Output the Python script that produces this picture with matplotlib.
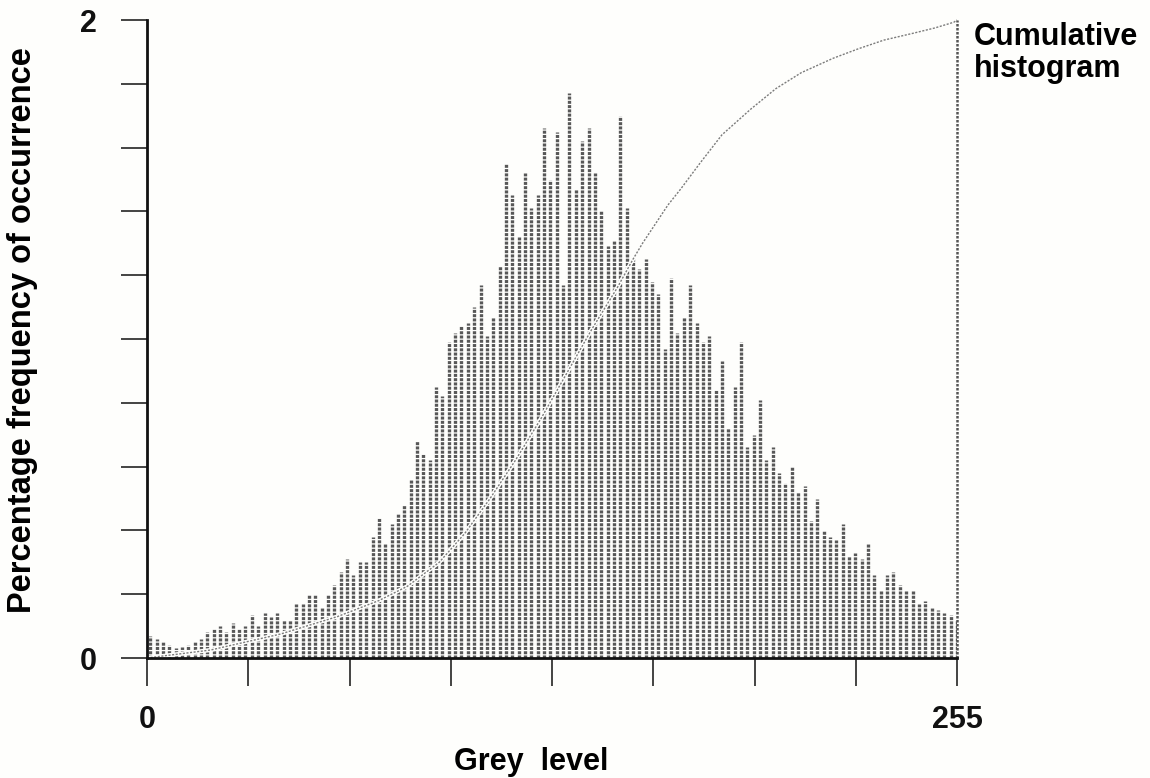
import numpy as np
import matplotlib
matplotlib.use("Agg")
import matplotlib.pyplot as plt

# Percentage frequency of occurrence, one bar per pair of grey levels (0-1, 2-3, ..., 254-255)
frequency = [
    0.07, 0.06, 0.05, 0.04, 0.03, 0.035, 0.04, 0.05, 0.06, 0.08,
    0.09, 0.10, 0.08, 0.11, 0.09, 0.10, 0.135, 0.10, 0.14, 0.13,
    0.14, 0.12, 0.12, 0.17, 0.17, 0.20, 0.20, 0.16, 0.20, 0.23,
    0.27, 0.31, 0.26, 0.30, 0.30, 0.38, 0.44, 0.36, 0.42, 0.45,
    0.48, 0.56, 0.68, 0.64, 0.62, 0.85, 0.82, 0.99, 1.02, 1.04,
    1.05, 1.10, 1.17, 1.01, 1.07, 1.23, 1.55, 1.45, 1.32, 1.52,
    1.41, 1.45, 1.66, 1.50, 1.65, 1.17, 1.77, 1.47, 1.62, 1.66,
    1.52, 1.40, 1.29, 1.31, 1.70, 1.41, 1.25, 1.22, 1.25, 1.18,
    1.14, 0.97, 1.19, 1.02, 1.07, 1.17, 1.05, 0.99, 1.01, 0.84,
    0.93, 0.72, 0.85, 0.99, 0.66, 0.70, 0.81, 0.62, 0.66, 0.58,
    0.55, 0.60, 0.52, 0.54, 0.43, 0.50, 0.40, 0.38, 0.37, 0.42,
    0.32, 0.33, 0.31, 0.36, 0.26, 0.21, 0.26, 0.27, 0.23, 0.21,
    0.21, 0.17, 0.18, 0.16, 0.15, 0.14, 0.135, 0.12,
]
grey_levels = np.arange(1, 256, 2)          # bar positions (centre of each pair)
grey_min, grey_max = 0, 255
y_max = 2.0

# Cumulative histogram (100 % drawn at the top of the axis)
cum_grey = [0, 20, 42, 60, 73, 82, 92, 100, 108, 116, 124, 132, 140, 148,
            153, 156, 164, 168, 174, 181, 190, 198, 206, 216, 224, 232, 241,
            248, 254, 255]
cum_value = [0.0, 0.025, 0.075, 0.13, 0.18, 0.225, 0.30, 0.39, 0.50, 0.62,
             0.75, 0.89, 1.03, 1.16, 1.25, 1.30, 1.42, 1.47, 1.55, 1.64,
             1.72, 1.785, 1.835, 1.88, 1.91, 1.937, 1.958, 1.975, 1.993, 2.0]

x_tick_labels = {0: "0", 255: "255"}
y_tick_labels = {0.0: "0", 2.0: "2"}

font = {"family": ["Liberation Sans", "DejaVu Sans"], "weight": "bold"}
paper = "#fefefc"

fig = plt.figure(figsize=(11.5, 7.78), dpi=100, facecolor=paper)
ax = fig.add_axes([147 / 1150, 1 - 658 / 778, 810 / 1150, 638 / 778])
ax.set_facecolor(paper)

freq = np.asarray(frequency)
# Histogram columns drawn as dotted vertical strokes
ax.vlines(grey_levels, 0, freq, colors="#585858", linewidth=2.4,
          linestyles=(0, (0.9, 0.38)), zorder=2)

# Cumulative curve: a white track through the columns with a fine dotted line on it
ax.plot(cum_grey, cum_value, color=paper, linewidth=3.0, zorder=3,
        solid_capstyle="butt", solid_joinstyle="round")
ax.plot(cum_grey, cum_value, color="#7c7c7c", linewidth=1.0,
        linestyle=(0, (1.5, 1.1)), zorder=4, clip_on=False)
# Vertical dotted edge at the top grey level
ax.plot([grey_max, grey_max], [0, cum_value[-1]], color="#555555",
        linewidth=1.8, linestyle=(0, (1.0, 0.6)), zorder=4, clip_on=False)

ax.set_xlim(grey_min, grey_max)
ax.set_ylim(0, y_max)

for side in ("top", "right"):
    ax.spines[side].set_visible(False)
for side in ("left", "bottom"):
    ax.spines[side].set_linewidth(2.0)
    ax.spines[side].set_color("#111111")
    ax.spines[side].set_zorder(5)

yt = np.round(np.linspace(0, y_max, 11), 2)
ax.set_yticks(yt)
ax.set_yticklabels([y_tick_labels.get(v, "") for v in yt], fontdict=dict(size=22, **font))
xt = np.linspace(grey_min, grey_max, 9)
ax.set_xticks(xt)
ax.set_xticklabels([x_tick_labels[int(v)] if v in (grey_min, grey_max) else ""
                    for v in xt], fontdict=dict(size=22, **font))
ax.tick_params(axis="y", direction="out", length=19, width=1.1, pad=17, colors="#111111")
ax.tick_params(axis="x", direction="out", length=20, width=1.1, pad=14, colors="#111111")

fig.text(531 / 1150, 1 - 762 / 778, "Grey  level", ha="center", va="center",
         fontsize=22, **font)
fig.text(23 / 1150, 1 - 330 / 778, "Percentage frequency of occurrence",
         rotation=90, ha="center", va="center", fontsize=23.5, **font)
fig.text(974 / 1150, 1 - 22 / 778, "Cumulative\nhistogram", ha="left", va="top",
         fontsize=22, linespacing=1.1, **font)

fig.savefig("out.png", dpi=100, facecolor=fig.get_facecolor())
